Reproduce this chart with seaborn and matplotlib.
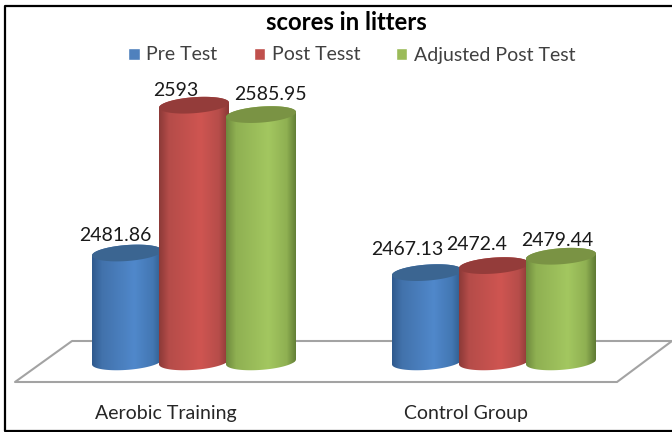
import numpy as np
import pandas as pd
import seaborn as sns
import matplotlib.pyplot as plt
from matplotlib.colors import LinearSegmentedColormap
from matplotlib.patches import Polygon

categories = ['Aerobic Training', 'Control Group']
series = ['Pre Test', 'Post Tesst', 'Adjusted Post Test']
pre_test = [2481.86, 2467.13]
post_test = [2593, 2472.4]
adjusted = [2585.95, 2479.44]

colors = ['#4f81bd', '#c0504d', '#9bbb59']
top_colors = ['#3b6591', '#943c3a', '#7a9344']
ramps = [['#2f5a8e', '#4272ab', '#5088cb', '#4377b3', '#2f5a88'],
         ['#8c3a38', '#b54c49', '#cf5551', '#b64d4a', '#8a3836'],
         ['#6f8a3e', '#8fb052', '#a3c760', '#8fb052', '#5f7a34']]
ramp_stops = [0, 0.14, 0.6, 0.86, 1]

# pixel offsets of the value labels from the top of each bar
label_dx = [-12, -18, 9, -20, -17, -4]
label_dy = [18, 15, 20, 23, 21, 16]

df = pd.DataFrame({'group': categories, series[0]: pre_test, series[1]: post_test, series[2]: adjusted})
df = df.melt(id_vars='group', var_name='test', value_name='score')

sns.set_theme(style='white')
plt.rcParams['font.family'] = ['Lato', 'DejaVu Sans']

fig = plt.figure(figsize=(6.72, 4.32), dpi=100)
ax = fig.add_axes([0, 37 / 432, 1, 395 / 432])
sns.barplot(data=df, x='group', y='score', hue='test', hue_order=series, palette=colors,
            width=0.67, saturation=1, ax=ax)

px_y = 1 / 1.33
px_x = 1 / 300
base = 2400
xlim = (-194 * px_x, 478 * px_x)
ylim = (2375.1, 2672.1)
extra = 1.5 * px_x
b = 8 * px_y
tilt = 2.5 * px_y

bars = list(ax.containers)
labels = []
for i in range(3):
    cmap = LinearSegmentedColormap.from_list('c', list(zip(ramp_stops, ramps[i])))
    for j, bar in enumerate(bars[i]):
        x0 = bar.get_x() - extra
        x1 = bar.get_x() + bar.get_width() + extra
        cx = (x0 + x1) / 2
        a = (x1 - x0) / 2
        value = bar.get_height()
        bar.set_y(base)
        bar.set_height(value - base)
        bar.set_zorder(5 + i)
        t = np.linspace(np.pi, 2 * np.pi, 40)
        low = np.column_stack([cx + a * np.cos(t), base + b * np.sin(t) + tilt * np.cos(t)])
        t = np.linspace(0, np.pi, 40)
        up = np.column_stack([cx + a * np.cos(t), value + b * np.sin(t) + tilt * np.cos(t)])
        body = Polygon(np.vstack([low, up]), closed=True, fc='none', ec='none', zorder=5 + i)
        ax.add_patch(body)
        bar.set_clip_path(body)
        img = ax.imshow(np.linspace(0, 1, 128)[None, :], cmap=cmap, aspect='auto',
                        extent=(x0, x1, base - 20, value + 20), zorder=5 + i + 0.1)
        img.set_clip_path(body)
        t = np.linspace(0, 2 * np.pi, 80)
        ax.fill(cx + a * np.cos(t), value + b * np.sin(t) + tilt * np.cos(t),
                color=top_colors[i], lw=0, zorder=5 + i + 0.2)
        labels.append((i, j, cx, value))

for i, j, cx, value in labels:
    k = j * 3 + i
    ax.annotate(f'{value:g}', (cx, value), xytext=(label_dx[k], label_dy[k]), textcoords='offset pixels',
                ha='center', va='center', fontsize=14, color='#1a1a1a', zorder=20)

ax.set_xlim(xlim)
ax.set_ylim(ylim)
ax.set_xlabel('')
ax.set_ylabel('')
ax.set_yticks([])
ax.set_xticks(np.arange(2) - 0.095, categories)
ax.tick_params(axis='x', length=0, pad=7, labelsize=14, labelcolor='#262626')
sns.despine(ax=ax, left=True, bottom=True)

# floor of the 3d chart
floor_x = np.array([15, 617, 672, 72]) / 672
floor_y = 1 - np.array([382, 382, 341, 341]) / 395
ax.add_patch(Polygon(np.column_stack([floor_x, floor_y]), closed=False, transform=ax.transAxes,
                     fc='white', ec='#a3a3a3', lw=1.5, zorder=1, clip_on=False))
ax.plot([15 / 672, 72 / 672], [floor_y[0], floor_y[3]], transform=ax.transAxes, color='#a3a3a3', lw=1.5, zorder=1)

handles, names = ax.get_legend_handles_labels()
ax.legend(handles, names, ncol=3, loc='center', bbox_to_anchor=(352 / 672, 1 - 55 / 395), frameon=False,
          fontsize=14, handlelength=0.58, handleheight=0.58, handletextpad=0.35, columnspacing=1.85,
          labelcolor='#404040')

fig.text(346 / 672, 1 - 22 / 432, 'scores in litters', ha='center', va='center', fontsize=17.2,
         fontweight='bold', color='black')

# outer border, open on the right like the screenshot
fig.add_artist(plt.Line2D([1, 5 / 672, 5 / 672, 1], [1 - 6 / 432, 1 - 6 / 432, 1 - 431 / 432, 1 - 431 / 432],
                          color='black', lw=1.6))

fig.savefig('out.png', dpi=100)
